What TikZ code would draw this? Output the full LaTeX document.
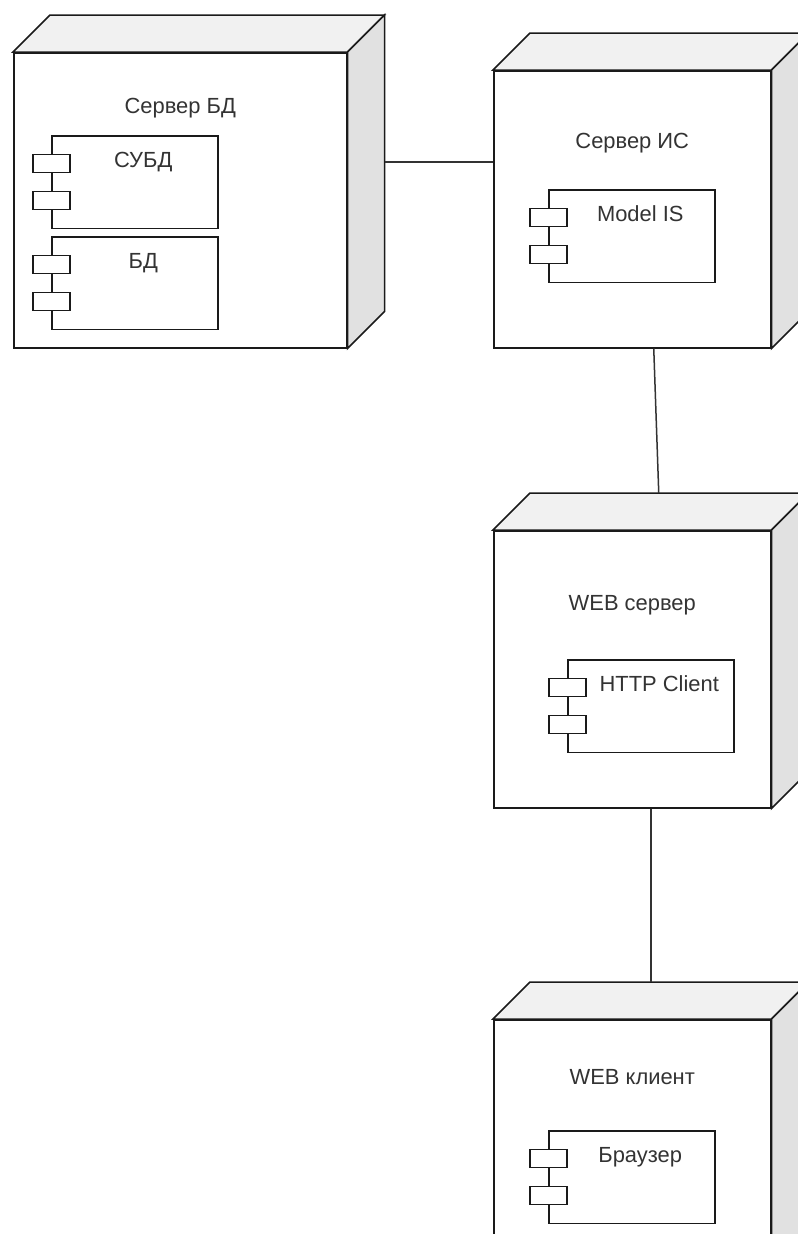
\documentclass[tikz,border=0pt]{standalone}
\usepackage{fontspec}
\setmainfont{Liberation Sans}
\usetikzlibrary{calc}

\definecolor{edge}{HTML}{1A1A1A}
\definecolor{topshade}{HTML}{F1F1F1}
\definecolor{sideshade}{HTML}{E1E1E1}
\definecolor{textgrey}{HTML}{333333}
\definecolor{linkgrey}{HTML}{333333}

\tikzset{
  boxline/.style={draw=edge, line width=1.5bp, line join=miter},
  frontface/.style={boxline, fill=white, rectangle, inner sep=0pt, anchor=north west},
  topface/.style={boxline, fill=topshade},
  sideface/.style={boxline, fill=sideshade},
  compbody/.style={boxline, fill=white, rectangle, inner sep=0pt, anchor=north west,
    minimum width=166bp, minimum height=92.5bp},
  compport/.style={boxline, fill=white, rectangle, inner sep=0pt, anchor=north west,
    minimum width=37bp, minimum height=18bp},
  lbl/.style={font=\fontsize{22}{26}\selectfont, text=textgrey, inner sep=0pt, anchor=base},
  link/.style={draw=linkgrey, line width=1.5bp},
}

% 3D deployment node: name, x, y (front top-left), width, height
\newcommand\devicebox[5]{%
  \node[frontface, minimum width=#4bp, minimum height=#5bp] (#1) at (#2,#3) {};
  \filldraw[topface] (#1.north west) -- ++(37,-37) -- ($(#1.north east)+(37,-37)$)
    -- (#1.north east) -- cycle;
  \filldraw[sideface] (#1.north east) -- ++(37,-37) -- ($(#1.south east)+(37,-37)$)
    -- (#1.south east) -- cycle;
}

% UML component: name, x, y (top-left of body), caption
\newcommand\umlcomponent[4]{%
  \node[compbody] (#1) at (#2,#3) {};
  \node[compport] (#1-p1) at ($(#1.north west)+(-19,18.5)$) {};
  \node[compport] (#1-p2) at ($(#1.north west)+(-19,55.5)$) {};
  \node[lbl] (#1-t) at ($(#1.north)+(8.5,32.5)$) {#4};
}

\begin{document}
\begin{tikzpicture}[x=1bp, y=-1bp]
  \useasboundingbox (0,0) rectangle (798,1234);
  \clip (0,0) rectangle (798,1234);

  % database server
  \devicebox{db}{13}{52}{333}{295}
  \node[lbl] (db-t) at ($(db.north)+(0,61)$) {Сервер БД};
  \umlcomponent{dbms}{51}{135}{СУБД}
  \umlcomponent{dbase}{51}{236}{БД}

  % information system server
  \devicebox{is}{493}{70}{277}{277}
  \node[lbl] (is-t) at ($(is.north)+(0,78)$) {Сервер ИС};
  \umlcomponent{model}{548}{189}{Model IS}

  % web server
  \devicebox{web}{493}{530}{277}{277}
  \node[lbl] (web-t) at ($(web.north)+(0,80.5)$) {WEB сервер};
  \umlcomponent{http}{567}{659}{HTTP Client}

  % web client
  \devicebox{cli}{493}{1019}{277}{277}
  \node[lbl] (cli-t) at ($(cli.north)+(0,65)$) {WEB клиент};
  \umlcomponent{browser}{548}{1130}{Браузер}

  % communication paths
  \draw[link] ($(db.north east)+(37,110)$) -- ($(is.north west)+(0,92)$);
  \draw[link] ($(is.south)+(21.5,0)$) -- ($(web.north)+(26.5,-37)$);
  \draw[link] ($(web.south)+(18.5,0)$) -- ($(cli.north)+(18.5,-37)$);
\end{tikzpicture}
\end{document}
